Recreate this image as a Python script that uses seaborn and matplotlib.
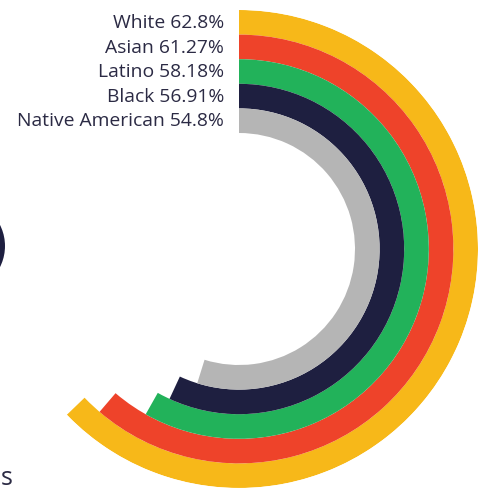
import numpy as np
import matplotlib
matplotlib.use("Agg")
import matplotlib.pyplot as plt
import seaborn as sns
from matplotlib.patches import Circle

categories = ["White", "Asian", "Latino", "Black", "Native American"]
values = [62.8, 61.27, 58.18, 56.91, 54.8]
colors = ["#F7B819", "#EE432A", "#22B25A", "#1E1F40", "#B5B5B5"]
labels = [f"{c} {v:g}%" for c, v in zip(categories, values)]

sns.set_theme(style="white")
plt.rcParams['font.family'] = ['Open Sans', 'DejaVu Sans']

W, H = 493, 495
fig = plt.figure(figsize=(W / 100, H / 100), dpi=100)
fig.patch.set_facecolor("white")

R = 239.0
cx, cy = 239.0, 249.0
ax = fig.add_axes([(cx - R) / W, (H - cy - R) / H, 2 * R / W, 2 * R / H], projection="polar")
ax.set_theta_zero_location("N")
ax.set_theta_direction(-1)
ax.set_ylim(0, R)
ax.set_axis_off()

inner = 116.0
thick = (R - inner) / len(values)
for i, (v, col) in enumerate(zip(values, colors)):
    r_center = R - thick * (i + 0.5)
    ax.barh(r_center, np.deg2rad(v / 100 * 360), left=0, height=thick,
            color=col, linewidth=0, align="center")

text_color = "#2B2A44"
baselines = [28, 53, 77, 102, 126]
for lab, yb in zip(labels, baselines):
    fig.text(224 / W, 1 - yb / H, lab, ha="right", va="baseline",
             fontsize=13.9, color=text_color)

# cropped remnants at left edge
fig.patches.append(Circle((-41.6 / W, 1 - 246 / H), 46.6 / W, transform=fig.transFigure,
                          color="#1E1F40", linewidth=0))
fig.text(0.5 / W, 1 - 485 / H, "s", ha="left", va="baseline", fontsize=18, color=text_color)

fig.savefig("out.png", dpi=100)
